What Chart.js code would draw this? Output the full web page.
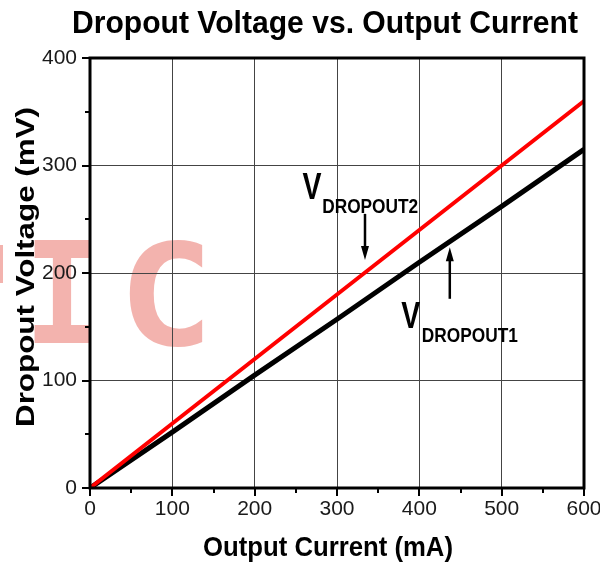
<!DOCTYPE html>
<html>
<head>
<meta charset="utf-8">
<script src="https://cdn.jsdelivr.net/npm/chart.js@4"></script>
<style>
  html, body { margin: 0; background: #fff; }
  canvas { display: block; }
</style>
</head>
<body>
<canvas id="chart" width="600" height="562"></canvas>
<script>
// values
const chartTitle = 'Dropout Voltage vs. Output Current'
const xTitle = 'Output Current (mA)'
const yTitle = 'Dropout Voltage (mV)'
const currents = [0, 100, 200, 300, 400, 500, 600]
const vDropout2 = [0, 60, 120, 180, 240, 300, 360]
const vDropout1 = [0, 52, 105, 157, 210, 262, 315]
const xTicks = [0, 100, 200, 300, 400, 500, 600]
const yTicks = [0, 100, 200, 300, 400]

// annotation labels, placed in data units
const notes = [
  { main: 'V', sub: 'DROPOUT2', x: 258, y: 269, subX: 282, subY: 256 },
  { main: 'V', sub: 'DROPOUT1', x: 378, y: 149, subX: 403, subY: 136 }
]
const arrows = [
  { x: 334, from: 255, to: 212 },
  { x: 437, from: 176, to: 224 }
]

const FONT = '"Liberation Sans", Arial, sans-serif'
const NARROW = '"Liberation Sans Narrow", "Arial Narrow", "Liberation Sans", sans-serif'

// draw text squeezed to a given width (the original type is condensed)
function squeezed(ctx, text, x, y, font, width, align) {
  ctx.save()
  ctx.font = font
  const w = ctx.measureText(text).width
  const sx = width / w
  ctx.translate(x, y)
  ctx.scale(sx, 1)
  ctx.textAlign = align || 'left'
  ctx.textBaseline = 'alphabetic'
  ctx.fillText(text, 0, 0)
  ctx.restore()
}

const decor = {
  id: 'decor',
  beforeDraw(chart) {
    const ctx = chart.ctx
    ctx.save()
    ctx.fillStyle = '#fff'
    ctx.fillRect(0, 0, chart.width, chart.height)
    // watermark
    ctx.fillStyle = 'rgba(226, 64, 52, 0.4)'
    const wm = 'bold 140px "DejaVu Sans Mono"'
    squeezed(ctx, 'I', 62, 343, wm, 76, 'center')
    squeezed(ctx, 'C', 166, 345, wm, 96, 'center')
    ctx.fillRect(0, 245, 3, 38)
    ctx.restore()
  },
  afterDraw(chart) {
    const ctx = chart.ctx
    const a = chart.chartArea
    const xs = chart.scales.x, ys = chart.scales.y
    ctx.save()
    ctx.fillStyle = '#000'
    ctx.strokeStyle = '#000'

    // tick marks, major and minor
    ctx.lineWidth = 2
    ctx.beginPath()
    for (let v = 0; v <= 600; v += 50) {
      const px = Math.round(xs.getPixelForValue(v))
      const len = v % 100 === 0 ? 8 : 5
      ctx.moveTo(px, a.bottom)
      ctx.lineTo(px, a.bottom + len)
    }
    for (let v = 0; v <= 400; v += 50) {
      const py = Math.round(ys.getPixelForValue(v))
      const len = v % 100 === 0 ? 8 : 5
      ctx.moveTo(a.left, py)
      ctx.lineTo(a.left - len, py)
    }
    ctx.stroke()

    // frame
    ctx.lineWidth = 3
    ctx.strokeRect(a.left, a.top, a.right - a.left, a.bottom - a.top)

    // titles
    ctx.fillStyle = '#000'
    squeezed(ctx, chartTitle, 72, 33, 'bold 32px ' + FONT, 506)
    squeezed(ctx, xTitle, 203, 556, 'bold 28px ' + FONT, 250)
    ctx.save()
    ctx.translate(34, 427)
    ctx.rotate(-Math.PI / 2)
    squeezed(ctx, yTitle, 0, 0, 'bold 25px ' + FONT, 320)
    ctx.restore()

    // annotations
    notes.forEach(n => {
      squeezed(ctx, n.main, xs.getPixelForValue(n.x), ys.getPixelForValue(n.y), 'bold 36px ' + FONT, 19)
      squeezed(ctx, n.sub, xs.getPixelForValue(n.subX), ys.getPixelForValue(n.subY), 'bold 21px ' + FONT, 96)
    })
    arrows.forEach(ar => {
      const px = xs.getPixelForValue(ar.x)
      const y0 = ys.getPixelForValue(ar.from)
      const y1 = ys.getPixelForValue(ar.to)
      const dir = y1 > y0 ? 1 : -1
      ctx.lineWidth = 2.5
      ctx.beginPath()
      ctx.moveTo(px, y0)
      ctx.lineTo(px, y1 - dir * 10)
      ctx.stroke()
      ctx.beginPath()
      ctx.moveTo(px, y1)
      ctx.lineTo(px - 4, y1 - dir * 14)
      ctx.lineTo(px + 4, y1 - dir * 14)
      ctx.closePath()
      ctx.fill()
    })
    ctx.restore()
  }
}

new Chart(document.getElementById('chart'), {
  type: 'line',
  data: {
    labels: currents,
    datasets: [{
      label: 'VDROPOUT2',
      data: currents.map((c, i) => ({ x: c, y: vDropout2[i] })),
      borderColor: '#ff0000',
      borderWidth: 4,
      pointRadius: 0,
      tension: 0
    }, {
      label: 'VDROPOUT1',
      data: currents.map((c, i) => ({ x: c, y: vDropout1[i] })),
      borderColor: '#000000',
      borderWidth: 5,
      pointRadius: 0,
      tension: 0
    }]
  },
  options: {
    responsive: false,
    animation: false,
    devicePixelRatio: 1,
    layout: { autoPadding: false, padding: { top: 58, right: 16, bottom: 0, left: 0 } },
    plugins: { legend: { display: false }, title: { display: false }, tooltip: { enabled: false } },
    scales: {
      x: {
        type: 'linear',
        min: 0, max: 600,
        afterBuildTicks: s => { s.ticks = xTicks.map(v => ({ value: v })) },
        afterFit: s => { s.height = 74; s.paddingLeft = 0; s.paddingRight = 0 },
        grid: { color: '#444', lineWidth: 1, drawTicks: false },
        border: { display: false },
        ticks: { padding: 9, color: '#1a1a1a', maxRotation: 0, font: { family: NARROW, size: 21 } }
      },
      y: {
        type: 'linear',
        min: 0, max: 400,
        afterBuildTicks: s => { s.ticks = yTicks.map(v => ({ value: v })) },
        afterFit: s => { s.width = 90; s.paddingTop = 0; s.paddingBottom = 0 },
        grid: { color: '#444', lineWidth: 1, drawTicks: false },
        border: { display: false },
        ticks: { padding: 13, color: '#1a1a1a', font: { family: NARROW, size: 21 } }
      }
    }
  },
  plugins: [decor]
})
</script>
</body>
</html>
